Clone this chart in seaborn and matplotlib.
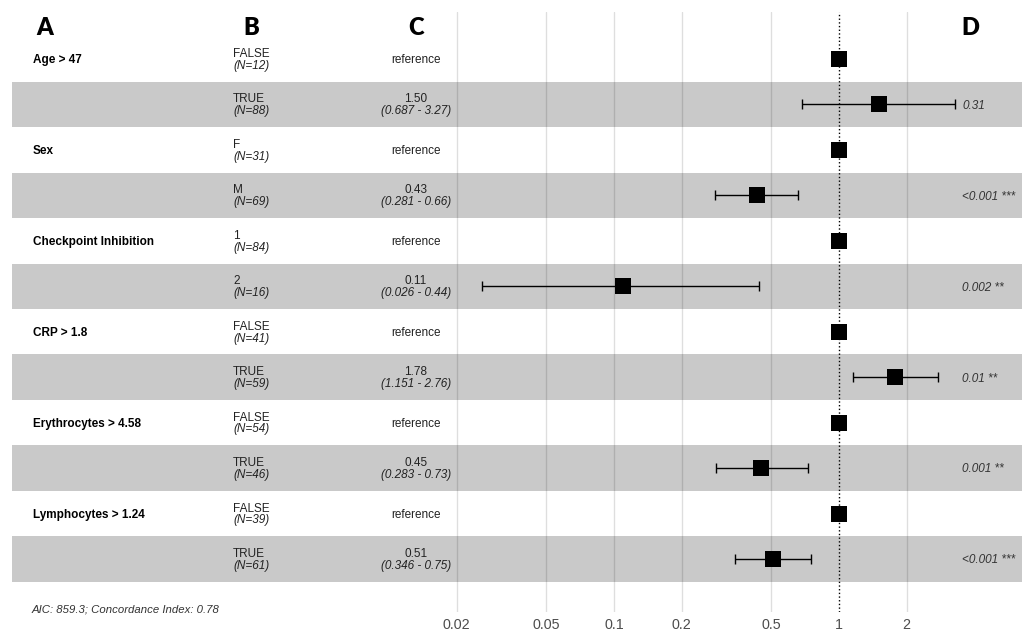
import matplotlib
matplotlib.use("Agg")
import matplotlib.pyplot as plt
import matplotlib.transforms as mtransforms
import numpy as np
import pandas as pd
import seaborn as sns

# data
variables = ["Age > 47", "Sex", "Checkpoint Inhibition", "CRP > 1.8",
             "Erythrocytes > 4.58", "Lymphocytes > 1.24"]
levels = ["FALSE", "TRUE", "F", "M", "1", "2",
          "FALSE", "TRUE", "FALSE", "TRUE", "FALSE", "TRUE"]
n_obs = [12, 88, 31, 69, 84, 16, 41, 59, 54, 46, 39, 61]
hr = [1, 1.50, 1, 0.43, 1, 0.11, 1, 1.78, 1, 0.45, 1, 0.51]
ci_low = [None, 0.687, None, 0.281, None, 0.026, None, 1.151, None, 0.283, None, 0.346]
ci_high = [None, 3.27, None, 0.66, None, 0.44, None, 2.76, None, 0.73, None, 0.75]
p_text = ["", "0.31", "", "<0.001 ***", "", "0.002 **",
          "", "0.01 **", "", "0.001 **", "", "<0.001 ***"]
x_ticks = [0.02, 0.05, 0.1, 0.2, 0.5, 1, 2]
footer = "AIC: 859.3; Concordance Index: 0.78"

df = pd.DataFrame({"level": levels, "n": n_obs, "hr": hr,
                   "low": ci_low, "high": ci_high, "p": p_text})
df["row"] = np.arange(1, len(df) + 1)
df["is_ref"] = df["low"].isna()

sns.set_theme(style="white")
plt.rcParams['font.family'] = ['Liberation Sans', 'DejaVu Sans']

W, H = 1022, 632
fig = plt.figure(figsize=(W / 100, H / 100), dpi=100)
ax = fig.add_axes([0, (H - 612) / H, 1, 600 / H])

# log x axis: value 1 at 839 px, 225 px per decade
ppd = 225.0
x_one = 839.0
ax.set_xscale("log")
ax.set_xlim(10 ** (-x_one / ppd), 10 ** ((W - x_one) / ppd))
ax.set_ylim(13.166, -0.034)

# grey stripes on every second row
for r in df["row"]:
    if r % 2 == 0:
        ax.axhspan(r - 0.5, r + 0.5, xmin=12 / W, xmax=1, color="#c9c9c9", lw=0, zorder=1)

for t in x_ticks:
    if t == 1:
        ax.axvline(t, color="black", ls=":", lw=1.0, zorder=2)
    else:
        ax.axvline(t, color="black", alpha=0.13, lw=1.0, zorder=2)

# error bars and squares
est = df[~df["is_ref"]]
ax.errorbar(est["hr"], est["row"],
            xerr=[est["hr"] - est["low"], est["high"] - est["hr"]],
            fmt="none", ecolor="black", elinewidth=1.0, capsize=3.5, capthick=1.0, zorder=3)
sns.scatterplot(data=df, x="hr", y="row", marker="s", s=125, color="black",
                edgecolor="black", linewidth=0, legend=False, ax=ax, zorder=4)

# text columns
tr = mtransforms.blended_transform_factory(ax.transAxes, ax.transData)
small = 8.5
txt_col = "#222222"
for i, row in df.iterrows():
    y = row["row"]
    if i % 2 == 0:
        ax.text(33 / W, y + 0.03, variables[i // 2], transform=tr, ha="left", va="center",
                fontsize=small, fontweight="bold", color="black")
        ax.text(416 / W, y + 0.03, "reference", transform=tr, ha="center", va="center",
                fontsize=small, color=txt_col)
    else:
        ax.text(416 / W, y - 0.11, f"{row['hr']:.2f}", transform=tr, ha="center", va="center",
                fontsize=small, color=txt_col)
        ax.text(416 / W, y + 0.15, f"({row['low']} - {row['high']})", transform=tr,
                ha="center", va="center", fontsize=small, style="italic", color=txt_col)
        ax.text(962 / W, y + 0.03, row["p"], transform=tr, ha="left", va="center",
                fontsize=small, style="italic", color="#333333")
    ax.text(233 / W, y - 0.11, row["level"], transform=tr, ha="left", va="center",
            fontsize=small, color=txt_col)
    ax.text(233 / W, y + 0.15, f"(N={row['n']})", transform=tr, ha="left", va="center",
            fontsize=small, style="italic", color=txt_col)

ax.set_xticks(x_ticks)
ax.set_xticklabels([f"{t:g}" for t in x_ticks])
ax.minorticks_off()
ax.tick_params(axis="x", length=0, pad=4, labelsize=10.3, labelcolor="#4d4d4d")
ax.set_yticks([])
ax.set_xlabel("")
ax.set_ylabel("")
for s in ax.spines.values():
    s.set_visible(False)

fig.text(32 / W, 1 - 610 / H, footer, ha="left", va="center", fontsize=8.2,
         style="italic", color="#333333")

for lab, xp in zip(["A", "B", "C", "D"], [45, 251, 416, 970]):
    fig.text(xp / W, 1 - 28 / H, lab, ha="center", va="center", fontsize=17,
             fontweight="heavy", family=["Lato", "DejaVu Sans"], color="black")

fig.savefig("out.png", dpi=100)
